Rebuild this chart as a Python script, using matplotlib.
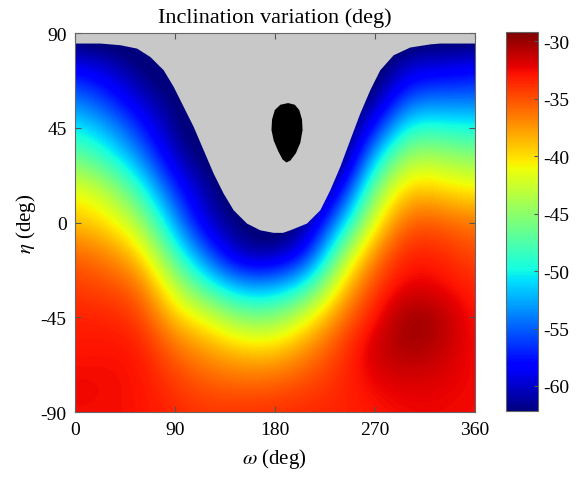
import numpy as np
import matplotlib
matplotlib.use("Agg")
import matplotlib.pyplot as plt

plt.rcParams['font.family'] = ['Liberation Serif', 'DejaVu Serif']
plt.rcParams['mathtext.fontset'] = 'stix'
plt.rcParams['axes.unicode_minus'] = False

# grid of read-off values (deg), rows: eta from 90 down to -90, cols: omega 0..360
omega = [0, 30, 60, 90, 120, 150, 180, 210, 240, 270, 300, 330, 360]
eta = [90, 75, 60, 45, 30, 15, 0, -15, -30, -45, -60, -75, -90]
# -64 marks cells inside the grey (no solution) region
incl = [
    [-64, -64, -64, -64, -64, -64, -64, -64, -64, -64, -64, -64, -64],
    [-59.0, -60.3, -62.5, -64, -64, -64, -64, -64, -64, -64, -60.0, -59.8, -59.0],
    [-54.5, -57.0, -60.5, -62.5, -64, -64, -64, -64, -64, -62.3, -55.5, -55.0, -55.0],
    [-50.2, -52.7, -57.2, -62.0, -64, -64, -64, -64, -64, -58.0, -48.8, -49.3, -49.8],
    [-45.8, -48.8, -53.5, -60.3, -63.0, -64, -64, -64, -64, -51.0, -43.0, -43.8, -45.0],
    [-41.0, -43.2, -48.8, -56.8, -61.5, -64, -64, -64, -59.0, -45.0, -38.5, -39.5, -40.5],
    [-38.9, -40.0, -44.0, -53.0, -60.5, -62.5, -64, -62.0, -52.5, -40.8, -35.0, -35.5, -36.5],
    [-35.6, -36.8, -39.5, -48.3, -55.5, -61.5, -61.5, -58.0, -44.8, -36.5, -33.0, -33.5, -34.8],
    [-34.3, -34.8, -36.0, -43.0, -49.2, -53.0, -53.0, -49.5, -39.5, -34.2, -32.0, -32.5, -33.6],
    [-33.3, -33.4, -34.2, -39.2, -41.5, -45.5, -45.5, -41.2, -36.2, -32.8, -29.6, -30.5, -33.0],
    [-33.0, -32.8, -33.0, -36.0, -37.8, -39.2, -39.5, -37.0, -34.3, -31.2, -30.2, -31.0, -32.8],
    [-32.4, -32.5, -32.8, -34.3, -35.5, -36.0, -35.8, -34.8, -33.6, -32.2, -31.8, -32.0, -32.6],
    [-32.6, -32.6, -32.8, -33.5, -34.0, -33.8, -33.7, -33.5, -33.4, -33.0, -32.5, -32.5, -32.6],
]

# lower edge of the grey region
edge_omega = [0, 22.5, 40.5, 55.5, 67.5, 79.5, 88.5, 97.5, 106.5, 115.5, 124.5, 133.5,
              142.5, 154.5, 166.5, 178.5, 187, 193.5, 208.5, 220.5, 229.5, 238.5, 247.5,
              256.5, 265.5, 274.5, 286.5, 301.5, 319.5, 328.5, 360]
edge_eta = [85.3, 85.3, 84.5, 82.9, 78.9, 72.6, 64.7, 55.2, 45.7, 34.6, 23.5, 14.0,
            6.1, -0.2, -3.4, -4.6, -4.6, -3.4, -0.2, 6.1, 15.6, 26.7, 39.4,
            52.0, 63.1, 72.6, 79.7, 83.4, 84.9, 85.3, 85.3]

# black patch outline
blob_omega = [192, 198, 202, 204.5, 205, 203, 199, 194, 190.5, 187, 183, 179, 177, 177.5, 180, 185]
blob_eta = [56.8, 56, 53.5, 49, 44, 38, 33, 29.5, 28.6, 30, 34, 39, 44, 49, 53.5, 56]

vmin, vmax = -62.2, -29.2

fig = plt.figure(figsize=(5.81, 4.81), dpi=100)
ax = fig.add_axes([0.129, 0.141, 0.688, 0.788])
cax = fig.add_axes([0.871, 0.143, 0.055, 0.788])

Z = np.array(incl)[::-1]
im = ax.imshow(Z, origin='lower', extent=[-15, 375, -97.5, 97.5], cmap='jet',
               vmin=vmin, vmax=vmax, interpolation='bicubic', aspect='auto')
ax.fill_between(edge_omega, edge_eta, 90, color='#c8c8c8', lw=0)
ax.fill(blob_omega, blob_eta, color='black', lw=0)

ax.set_xlim(0, 360)
ax.set_ylim(-90, 90)
ax.set_xticks([0, 90, 180, 270, 360])
ax.set_yticks([-90, -45, 0, 45, 90])
ax.tick_params(direction='in', top=True, right=True, length=4, labelsize=14,
               color='#555555', pad=6)
for s in ax.spines.values():
    s.set_color('#666666')
    s.set_linewidth(0.8)
ax.set_title('Inclination variation (deg)', fontsize=16, pad=8)
ax.set_xlabel(r'$\omega$ (deg)', fontsize=15, labelpad=6)
ax.set_ylabel(r'$\eta$ (deg)', fontsize=15, labelpad=2)

cb = fig.colorbar(im, cax=cax)
cb.set_ticks([-60, -55, -50, -45, -40, -35, -30])
cb.ax.tick_params(direction='in', length=3, labelsize=14, color='#555555')
cb.outline.set_edgecolor('#666666')
cb.outline.set_linewidth(0.8)

fig.savefig('out.png', dpi=100)
